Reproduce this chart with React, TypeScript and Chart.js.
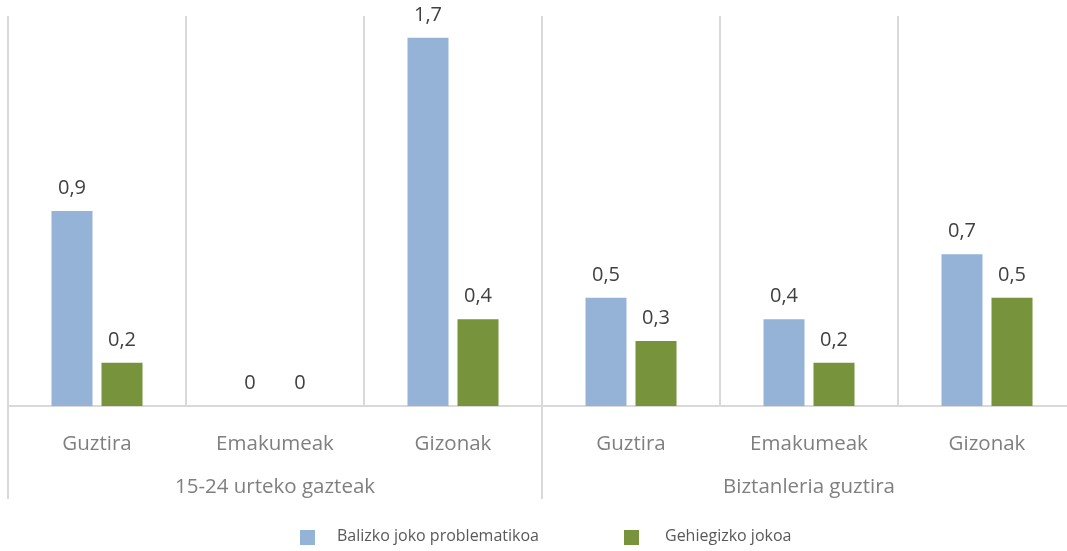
import React, { useEffect, useRef } from "react";
import { Chart, registerables } from "chart.js";

Chart.register(...registerables);

const categories = ["Guztira", "Emakumeak", "Gizonak", "Guztira", "Emakumeak", "Gizonak"];
const groups = ["15-24 urteko gazteak", "Biztanleria guztira"];
const groupSize = 3;
const seriesNames = ["Balizko joko problematikoa", "Gehiegizko jokoa"];
const balizkoValues = [0.9, 0, 1.7, 0.5, 0.4, 0.7];
const gehiegizkoValues = [0.2, 0, 0.4, 0.3, 0.2, 0.5];
const seriesColors = ["#95B3D7", "#77933C"];

const FONT = "'Open Sans', sans-serif";

const fmt = (v: number) => String(v).replace(".", ",");

const customPlugin = {
  id: "custom",
  afterDraw(chart: any) {
    const ctx = chart.ctx;
    const xs = chart.scales.x;
    const area = chart.chartArea;
    ctx.save();
    // data labels
    ctx.font = `20px ${FONT}`;
    ctx.fillStyle = "#404040";
    ctx.textAlign = "center";
    ctx.textBaseline = "alphabetic";
    chart.data.datasets.forEach((ds: any, i: number) => {
      const meta = chart.getDatasetMeta(i);
      meta.data.forEach((bar: any, j: number) => {
        ctx.fillText(fmt(ds.data[j]), bar.x, bar.y - 17);
      });
    });
    // category labels
    ctx.font = `20.5px ${FONT}`;
    ctx.fillStyle = "#7F7F7F";
    categories.forEach((c, j) => {
      ctx.fillText(c, xs.getPixelForValue(j), area.bottom + 44);
    });
    // group labels and separators
    const catW = (area.right - area.left) / categories.length;
    ctx.strokeStyle = "#D9D9D9";
    ctx.lineWidth = 2;
    groups.forEach((g, gi) => {
      const s = gi * groupSize;
      const e = s + groupSize - 1;
      const cx = (xs.getPixelForValue(s) + xs.getPixelForValue(e)) / 2;
      ctx.fillText(g, cx, area.bottom + 87);
      const lx = xs.getPixelForValue(s) - catW / 2;
      ctx.beginPath();
      ctx.moveTo(lx, area.bottom);
      ctx.lineTo(lx, area.bottom + 93);
      ctx.stroke();
      if (gi === groups.length - 1) {
        const rx = xs.getPixelForValue(e) + catW / 2;
        ctx.beginPath();
        ctx.moveTo(rx, area.bottom);
        ctx.lineTo(rx, area.bottom + 93);
        ctx.stroke();
      }
    });
    // legend
    const legendX = [300, 624];
    const legendY = area.bottom + 131;
    ctx.font = `16px ${FONT}`;
    ctx.textAlign = "left";
    seriesNames.forEach((n, i) => {
      ctx.fillStyle = seriesColors[i];
      ctx.fillRect(legendX[i], legendY - 7, 15, 15);
      ctx.fillStyle = "#595959";
      ctx.fillText(n, legendX[i] + 37 + (i === 1 ? 4 : 0), legendY + 4);
    });
    ctx.restore();
  },
};

export default function App() {
  const ref = useRef<HTMLCanvasElement>(null);
  useEffect(() => {
    if (!ref.current) return;
    const chart = new Chart(ref.current, {
      type: "bar",
      data: {
        labels: categories,
        datasets: [
          {
            label: seriesNames[0],
            data: balizkoValues,
            backgroundColor: seriesColors[0],
            categoryPercentage: 0.562,
            barPercentage: 0.82,
          },
          {
            label: seriesNames[1],
            data: gehiegizkoValues,
            backgroundColor: seriesColors[1],
            categoryPercentage: 0.562,
            barPercentage: 0.82,
          },
        ],
      },
      options: {
        animation: false,
        responsive: false,
        maintainAspectRatio: false,
        layout: { padding: { left: 8, top: 16, right: 9, bottom: 145 } },
        plugins: { legend: { display: false }, tooltip: { enabled: false } },
        scales: {
          x: {
            offset: true,
            ticks: { display: false },
            grid: { display: true, offset: true, color: "#D9D9D9", lineWidth: 2, drawTicks: false },
            border: { display: true, color: "#D9D9D9", width: 2 },
          },
          y: {
            display: false,
            min: 0,
            max: 1.8,
          },
        },
      },
      plugins: [customPlugin],
    });
    return () => chart.destroy();
  }, []);
  return (
    <div style={{ position: "fixed", left: 0, top: 0, width: 1067, height: 551, overflow: "hidden", background: "#fff" }}>
      <canvas ref={ref} width={1085} height={551} style={{ display: "block", width: 1085, height: 551 }} />
    </div>
  );
}
